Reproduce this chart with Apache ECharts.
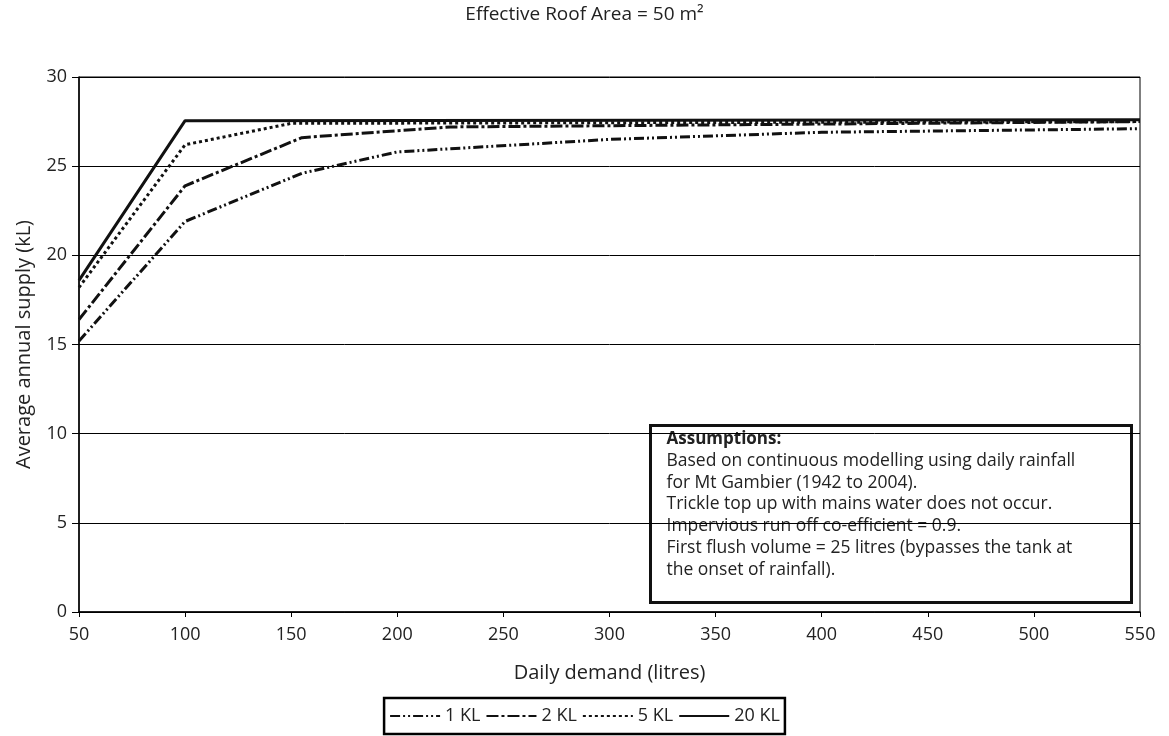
<!DOCTYPE html>
<html>
<head>
<meta charset="utf-8">
<script src="https://cdn.jsdelivr.net/npm/echarts@6/dist/echarts.min.js"></script>
<style>
  html, body { margin: 0; padding: 0; background: #fff; }
  #chart { width: 1169px; height: 736px; }
</style>
</head>
<body>
<div id="chart"></div>
<script>
// daily demand (litres) where each curve bends, and average annual supply (kL)
var demand1 = [50, 100, 155, 200, 300, 400, 550];
var supply1 = [15.2, 21.9, 24.6, 25.8, 26.5, 26.9, 27.1];
var demand2 = [50, 100, 155, 225, 550];
var supply2 = [16.4, 23.9, 26.6, 27.2, 27.5];
var demand5 = [50, 100, 150, 550];
var supply5 = [18.2, 26.2, 27.4, 27.5];
var demand20 = [50, 100, 550];
var supply20 = [18.6, 27.55, 27.6];

var seriesNames = ["1 KL", "2 KL", "5 KL", "20 KL"];
var dashes = [[10, 3, 2, 3, 2, 3], [12, 3, 3, 3], [3, 3], "solid"];

var assumptions = [
  "Based on continuous modelling using daily rainfall",
  "for Mt Gambier (1942 to 2004).",
  "Trickle top up with mains water does not occur.",
  "Impervious run off co-efficient = 0.9.",
  "First flush volume = 25 litres (bypasses the tank at",
  "the onset of rainfall)."
];

function pairs(xs, ys) {
  return xs.map(function (x, i) { return [x, ys[i]]; });
}

var font = "'Open Sans', sans-serif";
var chart = echarts.init(document.getElementById("chart"));

var allData = [pairs(demand1, supply1), pairs(demand2, supply2), pairs(demand5, supply5), pairs(demand20, supply20)];

chart.setOption({
  animation: false,
  textStyle: { fontFamily: font, color: "#222" },
  title: {
    text: "Effective Roof Area = 50 m²",
    left: "center",
    top: 0,
    textStyle: { fontFamily: font, fontSize: 19, fontWeight: "normal", color: "#222" }
  },
  grid: {
    left: 79, right: 29, top: 77, bottom: 124,
    show: true, borderColor: "#000", borderWidth: 1
  },
  xAxis: {
    type: "value",
    min: 50, max: 550, interval: 50,
    name: "Daily demand (litres)",
    nameLocation: "middle",
    nameGap: 51,
    nameTextStyle: { fontSize: 20, color: "#222", fontFamily: font },
    axisLine: { lineStyle: { color: "#000", width: 1.5 } },
    axisTick: { show: true, length: 5, lineStyle: { color: "#000" } },
    axisLabel: { fontSize: 18, color: "#222", margin: 14, fontFamily: font },
    splitLine: { show: false }
  },
  yAxis: {
    type: "value",
    min: 0, max: 30, interval: 5,
    name: "Average annual supply (kL)",
    nameLocation: "middle",
    nameGap: 45,
    nameTextStyle: { fontSize: 20, color: "#222", fontFamily: font },
    axisLine: { show: true, lineStyle: { color: "#000", width: 1.5 } },
    axisTick: { show: true, length: 7, lineStyle: { color: "#000" } },
    axisLabel: { fontSize: 18, color: "#222", margin: 12, fontFamily: font },
    splitLine: { show: true, lineStyle: { color: "#000", width: 1 } }
  },
  legend: {
    bottom: 2,
    left: "center",
    data: seriesNames,
    itemWidth: 50,
    itemHeight: 10,
    itemGap: 5,
    padding: [9, 5, 9, 5],
    borderColor: "#000",
    borderWidth: 2.5,
    itemStyle: { opacity: 0 },
    textStyle: { fontSize: 18, color: "#222", fontFamily: font }
  },
  series: seriesNames.map(function (name, i) {
    return {
      name: name,
      type: "line",
      data: allData[i],
      symbol: "none",
      z: 10 - i,
      lineStyle: { color: "#111", width: 3, type: dashes[i] },
      itemStyle: { color: "#111" }
    };
  }),
  graphic: [{
    type: "group",
    left: 649,
    top: 424,
    z: 100,
    children: [{
      type: "rect",
      shape: { x: 0, y: 0, width: 481, height: 177 },
      style: { fill: "#fff", stroke: "#111", lineWidth: 3 }
    }, {
      type: "text",
      left: 16, top: 3,
      style: {
        text: "{b|Assumptions:}\n" + assumptions.join("\n"),
        font: "17.5px " + font, lineHeight: 21.7, fill: "#222",
        rich: { b: { fontWeight: "bold", fontSize: 17, fontFamily: font, lineHeight: 21.7 } }
      }
    }]
  }]
});
</script>
</body>
</html>
